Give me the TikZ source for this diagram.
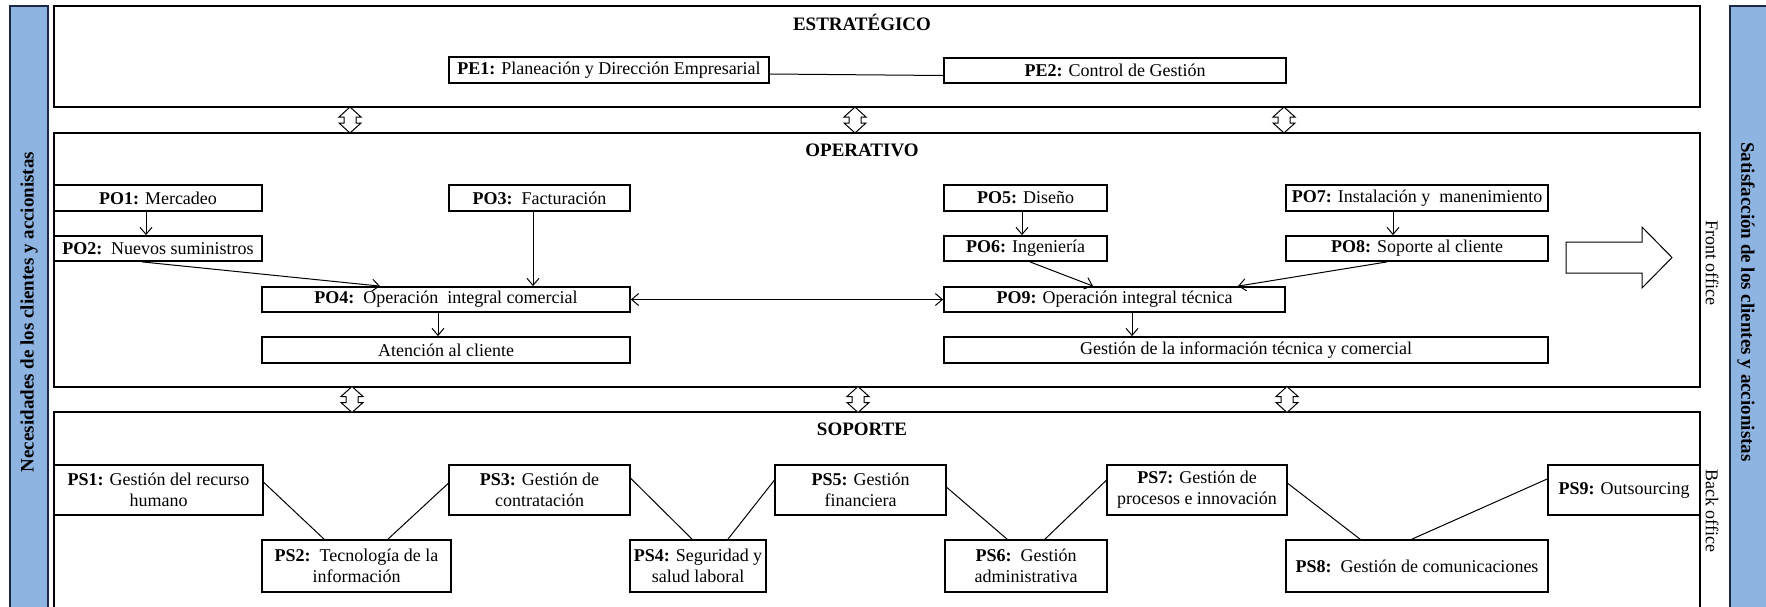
\documentclass[tikz,border=0pt]{standalone}
\usepackage{fontspec}
\setmainfont{Liberation Serif}
\usetikzlibrary{fit,calc,arrows.meta}
\definecolor{barblue}{RGB}{142,180,226}
\definecolor{barline}{RGB}{30,40,70}
\tikzset{
  dblarr/.pic={\draw[line width=0.5pt, fill=white] (0,-13) -- (11,-3) -- (6,-3) -- (6,3) -- (11,3) -- (0,13) -- (-11,3) -- (-6,3) -- (-6,-3) -- (-11,-3) -- cycle;},
  boxrc/.style args={#1,#2,#3,#4}{minimum width={(#3-#1)*0.5pt}, minimum height={(#4-#2)*0.5pt}, at={({(#1+#3)/2},{(#2+#4)/2})}}
}
\begin{document}
\begin{tikzpicture}[x=0.5pt,y=-0.5pt,
  every node/.style={font=\fontsize{9}{10.5}\selectfont},
  pbox/.style={draw, line width=0.9pt, inner sep=0pt, align=center},
  sect/.style={draw, line width=1pt, inner sep=0pt},
  conn/.style={line width=0.5pt},
  arr/.style={line width=0.5pt, -{Straight Barb[length=3.5pt,width=6pt]}},
  darr/.style={line width=0.5pt, {Straight Barb[length=3.5pt,width=6pt]}-{Straight Barb[length=3.5pt,width=6pt]}},
  ttl/.style={font=\fontsize{9.5}{11}\selectfont\bfseries},
  sidetxt/.style={font=\fontsize{9.5}{11}\selectfont\bfseries},
  office/.style={font=\fontsize{9}{10.5}\selectfont, rotate=-90}
]
\useasboundingbox (0,0) rectangle (1766,606);
\clip (0,0) rectangle (1766,606);
\fill[white] (0,0) rectangle (1766,606);

% side bars
\fill[barblue, draw=barline, line width=0.7pt] (10,6) rectangle (48,620);
\fill[barblue, draw=barline, line width=0.7pt] (1730,6) rectangle (1770,620);
\node[sidetxt, rotate=90] (needs) at (29,312) {Necesidades de los clientes y accionistas};
\node[sidetxt, rotate=-90] (satis) at (1746,302) {Satisfacción de los clientes y accionistas};

% sections
\node[sect, fit={(54,6)(1700,107)}] (SE) {};
\node[sect, fit={(54,133)(1700,387)}] (SO) {};
\node[sect, fit={(54,412)(1700,640)}] (SS) {};
\node[ttl] (tE) at (862,22) {ESTRATÉGICO};
\node[ttl] (tO) at (862,150) {OPERATIVO};
\node[ttl] (tS) at (862,429) {SOPORTE};

% double arrows between sections
\pic at (350,120) {dblarr};
\pic at (855,120) {dblarr};
\pic at (1284,120) {dblarr};
\pic at (352,399.5) {dblarr};
\pic at (858,399.5) {dblarr};
\pic at (1287,399.5) {dblarr};

% strategic
\node[pbox, boxrc={449,57,769,83}] (PE1) {\textbf{PE1:} Planeación y Dirección Empresarial};
\node[pbox, boxrc={944,58,1286,83}] (PE2) {\textbf{PE2:} Control de Gestión};
\draw[conn] ($(PE1.east)+(0,4)$) -- ($(PE2.west)+(0,5)$);

% operativo
\node[pbox, boxrc={54,185,262,211}] (PO1) {\textbf{PO1:} Mercadeo};
\node[pbox, boxrc={54,236,262,261}] (PO2) {\textbf{PO2:}\ \ Nuevos suministros};
\node[pbox, boxrc={449,185,630,211}] (PO3) {\textbf{PO3:}\ \ Facturación};
\node[pbox, boxrc={262,287,630,312}] (PO4) {\textbf{PO4:}\ \ Operación\ \ integral comercial};
\node[pbox, boxrc={262,337,630,363}] (AT) {Atención al cliente};
\node[pbox, boxrc={944,185,1107,211}] (PO5) {\textbf{PO5:} Diseño};
\node[pbox, boxrc={944,236,1107,261}] (PO6) {\textbf{PO6:} Ingeniería};
\node[pbox, boxrc={1286,185,1548,211}] (PO7) {\textbf{PO7:} Instalación y\ \ manenimiento};
\node[pbox, boxrc={1286,236,1548,261}] (PO8) {\textbf{PO8:} Soporte al cliente};
\node[pbox, boxrc={944,287,1285,312}] (PO9) {\textbf{PO9:} Operación integral técnica};
\node[pbox, boxrc={944,337,1548,363}] (GI) {Gestión de la información técnica y comercial};

\draw[arr] ($(PO1.south)+(-12,0)$) -- ($(PO2.north)+(-12,0)$);
\draw[arr] ($(PO2.south)+(-16,0)$) -- ($(PO4.north)+(-66,0)$);
\draw[arr] ($(PO3.south)+(-6.5,0)$) -- ($(PO4.north)+(87,0)$);
\draw[arr] ($(PO4.south)+(-8,0)$) -- ($(AT.north)+(-8,0)$);
\draw[darr] (PO4.east) -- (PO9.west);
\draw[arr] ($(PO5.south)+(-3.5,0)$) -- ($(PO6.north)+(-3.5,0)$);
\draw[arr] ($(PO6.south)+(4.5,0)$) -- ($(PO9.north)+(-21.5,0)$);
\draw[arr] ($(PO7.south)+(-24,0)$) -- ($(PO8.north)+(-24,0)$);
\draw[arr] ($(PO8.south)+(-30,0)$) -- ($(PO9.north)+(123.5,0)$);
\draw[arr] ($(PO9.south)+(17.5,0)$) -- ($(GI.north)+(-114,0)$);

% big arrow
\draw[line width=0.5pt, fill=white] (1566,242) -- (1642,242) -- (1642,227) -- (1672,257.5) -- (1642,288) -- (1642,273) -- (1566,273) -- cycle;
\node[office] (front) at (1712,263) {Front office};
\node[office] (back) at (1712,511) {Back office};

% soporte
\node[pbox, boxrc={54,465,263,515}] (PS1) {\textbf{PS1:} Gestión del recurso\\humano};
\node[pbox, boxrc={262,540,451,592}] (PS2) {\textbf{PS2:}\ \ Tecnología de la\\información};
\node[pbox, boxrc={449,465,630,515}] (PS3) {\textbf{PS3:} Gestión de\\contratación};
\node[pbox, boxrc={630,540,766,592}] (PS4) {\textbf{PS4:} Seguridad y\\salud laboral};
\node[pbox, boxrc={775,465,946,515}] (PS5) {\textbf{PS5:} Gestión\\financiera};
\node[pbox, boxrc={945,540,1107,592}] (PS6) {\textbf{PS6:}\ \ Gestión\\administrativa};
\node[pbox, boxrc={1107,465,1287,515}] (PS7) {\textbf{PS7:} Gestión de\\procesos e innovación};
\node[pbox, boxrc={1286,540,1548,592}] (PS8) {\textbf{PS8:}\ \ Gestión de comunicaciones};
\node[pbox, boxrc={1548,465,1700,515}] (PS9) {\textbf{PS9:} Outsourcing};

\draw[conn] ($(PS1.east)+(0,-7.5)$) -- ($(PS2.north)+(-32.5,0)$);
\draw[conn] ($(PS3.west)+(0,-6.5)$) -- ($(PS2.north)+(31.5,0)$);
\draw[conn] ($(PS3.east)+(0,-11.5)$) -- ($(PS4.north)+(-6,0)$);
\draw[conn] ($(PS5.west)+(0,-9.5)$) -- ($(PS4.north)+(30,0)$);
\draw[conn] ($(PS5.east)+(0,-2.5)$) -- ($(PS6.north)+(-19,0)$);
\draw[conn] ($(PS7.west)+(0,-9.5)$) -- ($(PS6.north)+(19,0)$);
\draw[conn] ($(PS7.east)+(0,-6.5)$) -- ($(PS8.north)+(-57,0)$);
\draw[conn] ($(PS9.west)+(0,-11)$) -- ($(PS8.north)+(-5,0)$);
\end{tikzpicture}
\end{document}
